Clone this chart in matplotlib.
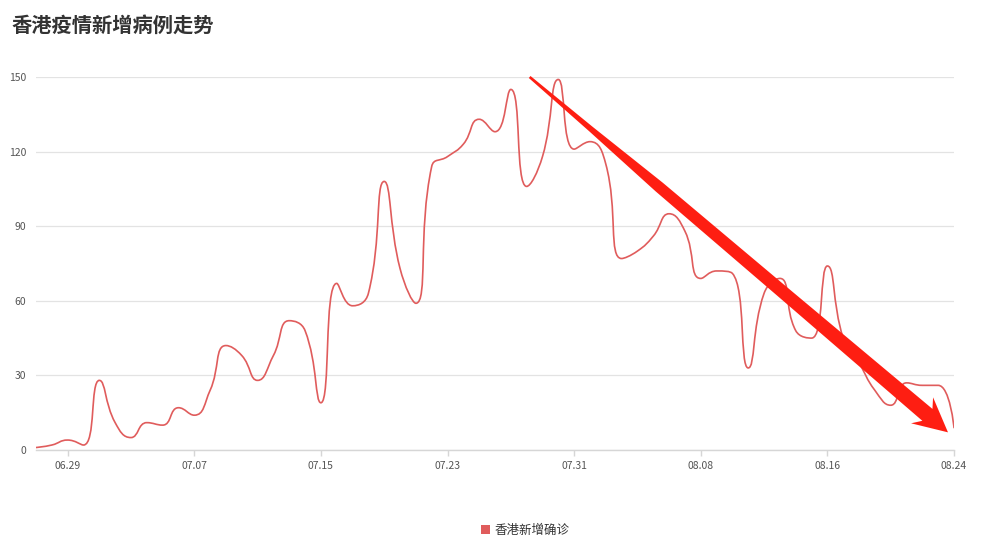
import numpy as np
import pandas as pd
import matplotlib
matplotlib.use('Agg')
import matplotlib.pyplot as plt
from matplotlib.path import Path
from matplotlib.patches import PathPatch, Polygon, Patch

plt.rcParams['font.family'] = ['Noto Sans CJK SC', 'DejaVu Sans']

# 日期 06.27 - 08.24
dates = pd.date_range('2020-06-27', '2020-08-24').strftime('%m.%d').tolist()
# 每日新增确诊
cases = [1, 2, 4, 2, 28, 11, 5, 11, 10, 17,
         14, 24, 42, 38, 28, 38, 52, 48, 19, 67,
         58, 63, 108, 73, 59, 114, 118, 123, 133, 128,
         145, 106, 118, 149, 121, 124, 115, 77, 80, 86,
         95, 88, 69, 72, 71, 33, 63, 69, 48, 45,
         74, 45, 35, 24, 18, 27, 26, 26, 9]
tick_labels = ['06.29', '07.07', '07.15', '07.23', '07.31', '08.08', '08.16', '08.24']
y_ticks = [0, 30, 60, 90, 120, 150]

line_color = '#e05c5c'
arrow_color = '#fe1e12'

fig = plt.figure(figsize=(9.81, 5.48), dpi=100)
ax = fig.add_axes([36 / 981, 1 - 450 / 548, 918 / 981, 373 / 548])

x = np.arange(len(dates))
ax.set_xlim(0, len(dates) - 1)
ax.set_ylim(0, 150)


def smooth_path(xs, ys, smooth=0.5):
    # 仿 echarts 的平滑折线 (贝塞尔控制点，按像素距离计算并夹紧)
    pts = ax.transData.transform(np.column_stack([xs, ys]))
    verts = [tuple(pts[0])]
    codes = [Path.MOVETO]
    cp0 = pts[0].copy()
    n = len(pts)
    for i in range(1, n):
        px, py = pts[i - 1]
        cx, cy = pts[i]
        if i == n - 1:
            cp1 = np.array([cx, cy])
            next_cp0 = None
        else:
            nx, ny = pts[i + 1]
            vx, vy = nx - px, ny - py
            lp = np.hypot(cx - px, cy - py)
            ln = np.hypot(nx - cx, ny - cy)
            r = ln / (ln + lp)
            ncx = cx + vx * smooth * r
            ncy = cy + vy * smooth * r
            ncx = max(min(ncx, max(nx, cx)), min(nx, cx))
            ncy = max(min(ncy, max(ny, cy)), min(ny, cy))
            vx, vy = ncx - cx, ncy - cy
            c1x = cx - vx * lp / ln
            c1y = cy - vy * lp / ln
            c1x = max(min(c1x, max(px, cx)), min(px, cx))
            c1y = max(min(c1y, max(py, cy)), min(py, cy))
            vx, vy = cx - c1x, cy - c1y
            ncx = cx + vx * ln / lp
            ncy = cy + vy * ln / lp
            cp1 = np.array([c1x, c1y])
            next_cp0 = np.array([ncx, ncy])
        verts += [tuple(cp0), tuple(cp1), (cx, cy)]
        codes += [Path.CURVE4] * 3
        if next_cp0 is not None:
            cp0 = next_cp0
    verts = ax.transData.inverted().transform(np.array(verts))
    return Path(verts, codes)


ax.add_patch(PathPatch(smooth_path(x, cases), facecolor='none', edgecolor=line_color,
                       linewidth=1.2, zorder=3, capstyle='round', joinstyle='round'))

# 坐标轴样式
for s in ['top', 'right', 'left']:
    ax.spines[s].set_visible(False)
ax.spines['bottom'].set_color('#d6d6d6')
ax.spines['bottom'].set_linewidth(1)
ax.set_yticks(y_ticks)
ax.set_yticklabels([str(v) for v in y_ticks])
ax.set_xticks([dates.index(t) for t in tick_labels])
ax.set_xticklabels(tick_labels)
ax.tick_params(axis='y', length=0, pad=7, labelsize=7.5, labelcolor='#555555')
ax.tick_params(axis='x', length=4, width=1, color='#d6d6d6', pad=4, labelsize=7.5, labelcolor='#555555')
ax.grid(axis='y', color='#e3e3e3', linewidth=0.9)
ax.set_axisbelow(True)

# 标题
fig.text(12 / 981, 1 - 25 / 548, '香港疫情新增病例走势', fontsize=14.6, fontweight='bold',
         color='#333333', va='center', ha='left')

# 图例
ax.legend(handles=[Patch(facecolor=line_color, edgecolor='none', label='香港新增确诊')],
          loc='center left', bbox_to_anchor=(481 / 981, 1 - 530 / 548),
          bbox_transform=fig.transFigure, frameon=False, fontsize=9,
          handlelength=0.75, handleheight=0.75, handletextpad=0.35,
          borderpad=0, borderaxespad=0, labelcolor='#333333')

# 下降趋势箭头 (手绘标注)
tail = np.array([31.19, 150.0])
tip = np.array([57.62, 7.1])
t_pix = ax.transData.transform(tail)
h_pix = ax.transData.transform(tip)
d = h_pix - t_pix
L = np.hypot(*d)
u = d / L
nrm = np.array([-u[1], u[0]])
half = [(0, 1.3), (80, 2.8), (170, 5.6), (330, 6.4), (L - 27, 7.8), (L - 34, 17), (L, 0)]
side_a = [t_pix + s * u + w * nrm for s, w in half]
side_b = [t_pix + s * u - w * nrm for s, w in half[:-1]][::-1]
poly = ax.transData.inverted().transform(np.array(side_a + side_b))
ax.add_patch(Polygon(poly, closed=True, facecolor=arrow_color, edgecolor='none',
                     zorder=5, clip_on=False))

fig.savefig('out.png', dpi=100)
